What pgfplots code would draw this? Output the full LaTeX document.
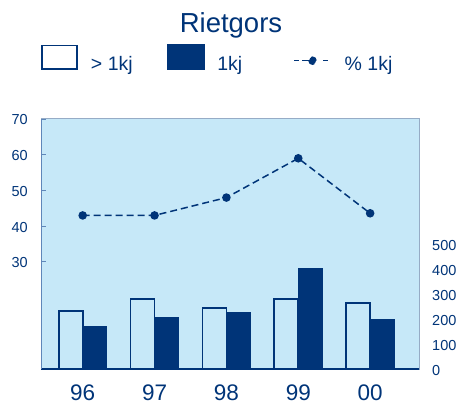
\documentclass[border=0pt]{standalone}
\usepackage{fontspec}
\setmainfont{Liberation Sans}
\usepackage{pgfplots}
\pgfplotsset{compat=1.18}
\definecolor{navy}{RGB}{0,52,120}
\definecolor{skyfill}{RGB}{198,232,248}
\definecolor{edgegray}{RGB}{150,172,198}
\definecolor{leftline}{RGB}{95,135,185}

% values
\pgfplotstableread{
x  over  one  pct
0  232   172  43
1  280   208  43
2  244   228  48
3  280   404  59
4  264   200  43.6
}\datatable

\begin{document}
\begin{tikzpicture}[x=1pt,y=1pt]
\useasboundingbox (0,0) rectangle (457,407);
\node[text=navy, font=\fontsize{27.5}{27.5}\selectfont, anchor=base] at (231,374) {Rietgors};

% bars on the right axis
\begin{axis}[
  scale only axis, width=378pt, height=250pt,
  at={(41pt,38pt)}, anchor=south west,
  xmin=-0.58, xmax=4.68, ymin=0, ymax=1000,
  axis background/.style={fill=skyfill},
  axis line style={draw=edgegray, line width=1pt},
  ytick={0,100,...,500}, yticklabel pos=right,
  xtick={0,1,2,3,4}, xticklabels={96,97,98,99,00},
  major tick length=0pt,
  /pgf/number format/assume math mode=true,
  yticklabel style={font=\fontsize{14.5}{14.5}\selectfont, text=navy, inner sep=0pt, anchor=west, xshift=13pt, yshift=-2pt},
  xticklabel style={font=\fontsize{22.5}{22.5}\selectfont, text=navy, inner sep=0pt, anchor=north, yshift=-16pt},
]
\addplot[ybar, bar width=24pt, bar shift=-12pt, draw=navy, line width=1.8pt, fill=skyfill] table[x=x, y=over] {\datatable};
\addplot[ybar, bar width=24pt, bar shift=12pt, draw=navy, fill=navy] table[x=x, y=one] {\datatable};
\end{axis}

% percentage line on the left axis
\begin{axis}[
  scale only axis, width=378pt, height=250pt,
  at={(41pt,38pt)}, anchor=south west,
  xmin=-0.58, xmax=4.68, ymin=0, ymax=70,
  axis x line*=bottom, axis y line*=left,
  x axis line style={draw=navy, line width=1.8pt, -},
  y axis line style={draw=leftline, line width=1pt, -},
  xtick=\empty,
  ytick={30,40,50,60,70},
  tick align=inside, major tick length=5pt,
  tick style={draw=leftline, line width=1pt},
  /pgf/number format/assume math mode=true,
  yticklabel style={font=\fontsize{14.5}{14.5}\selectfont, text=navy, inner sep=0pt, anchor=east, xshift=-13pt, yshift=-1pt},
  legend columns=3,
  legend style={at={(axis description cs:0,1)}, anchor=south west, yshift=47pt,
    draw=none, fill=none, inner sep=0pt, outer sep=0pt,
    font=\fontsize{19.5}{19.5}\selectfont, text=navy,
    nodes={inner sep=0pt},
    /tikz/every odd column/.style={column sep=13pt},
    /tikz/every even column/.style={column sep=0pt}},
]
\addlegendimage{legend image code/.code={\draw[navy, line width=1.8pt, fill=white] (0.9pt,-4.6pt) rectangle (36.1pt,18.6pt);}}
\addlegendentry{\makebox[76pt][l]{> 1kj}}
\addlegendimage{legend image code/.code={\fill[navy] (0pt,-5.5pt) rectangle (37pt,19.5pt);}}
\addlegendentry{\makebox[76pt][l]{1kj}}
\addplot[navy, line width=1.5pt, dash pattern=on 7pt off 4pt, mark=*, mark size=3.5pt, mark options={solid, fill=navy},
  legend image code/.code={
    \draw[navy, line width=1.3pt, dash pattern=on 5pt off 3pt] (0pt,3.5pt) -- (13pt,3.5pt);
    \draw[navy, line width=1.3pt] (13pt,3.5pt) -- (24pt,3.5pt);
    \draw[navy, line width=1.3pt, dash pattern=on 5pt off 3pt] (29pt,3.5pt) -- (37pt,3.5pt);
    \fill[navy] (18.5pt,3.5pt) circle (3.5pt);}] table[x=x, y=pct] {\datatable};
\addlegendentry{\% 1kj}
\end{axis}
\end{tikzpicture}
\end{document}
